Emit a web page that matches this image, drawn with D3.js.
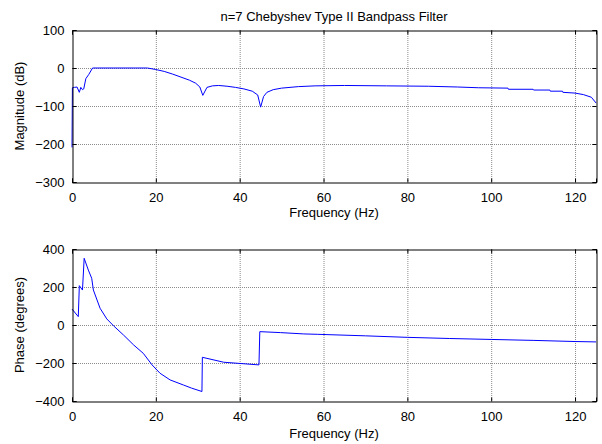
<!DOCTYPE html>
<html>
<head>
<meta charset="utf-8">
<script src="https://cdn.jsdelivr.net/npm/d3@7"></script>
<style>
  html, body { margin: 0; padding: 0; background: #fff; }
  svg text { font-family: "Liberation Sans", Arial, sans-serif; fill: #000; }
</style>
</head>
<body>
<svg id="chart" width="602" height="444"></svg>
<script>
// Frequency response of an order-7 Chebyshev Type II bandpass filter
const chartTitle = "n=7 Chebyshev Type II Bandpass Filter";
const xLabel = "Frequency (Hz)";
const magLabel = "Magnitude (dB)";
const phaseLabel = "Phase (degrees)";

const freqTicks = [0, 20, 40, 60, 80, 100, 120];
const magTicks = [100, 0, -100, -200, -300];
const phaseTicks = [400, 200, 0, -200, -400];

// magnitude response: frequency (Hz) and gain (dB)
const magFreq = [0, 0.1, 0.6, 1.2, 1.75, 2.1, 2.5, 2.8, 3.3, 4.0, 4.9, 10, 15, 18, 20, 22, 24, 26, 28, 29.5, 30.5, 31.2, 32.2, 33.5, 35, 37, 39, 41, 43, 44.3, 45, 45.7, 46.5, 48, 50, 54, 58, 65, 75, 85, 92, 97, 104, 104.1, 110, 110.1, 114, 114.1, 117, 117.1, 120, 122, 123.9, 125];
const magDb = [-209, -52, -51, -50, -64, -51, -57, -55, -28, -17, 0, 0, 0, 0, -4, -9, -16, -24, -32, -40, -50, -72, -51, -47, -46, -48, -51, -55, -61, -71, -103, -75, -64, -57, -53, -49, -47, -46, -47, -48, -50, -52, -53, -56, -56, -58, -58, -61, -61, -64, -66, -70, -77, -92];

// phase response: frequency (Hz) and phase (degrees)
const phaseFreq = [0, 1.5, 1.75, 2.5, 2.9, 3.9, 4.7, 5.1, 6.7, 8.3, 9.9, 12.3, 14.7, 17.0, 19.1, 21.0, 23.4, 26.6, 28.5, 31.0, 31.1, 36.2, 39.8, 44.6, 44.8, 49.7, 55.3, 58.5, 70, 80, 90, 100, 110, 120, 125];
const phaseDeg = [84, 44, 207, 184, 351, 289, 246, 184, 88, 32, -4, -53, -105, -149, -210, -254, -289, -316, -332, -350, -170, -196, -202, -210, -35, -40, -47, -49, -57, -65, -71, -76, -81, -87, -89];

const svg = d3.select("#chart");
const left = 72, right = 596;

const x = d3.scaleLinear().domain([0, 125]).range([left, right]);

function panel(top, bottom, domain, yTicks, xs, ys, yText, labelGap, withTitle) {
  const y = d3.scaleLinear().domain(domain).range([bottom, top]);
  const g = svg.append("g");

  // dotted grid
  g.append("g").selectAll("line.gx").data(freqTicks.filter(d => d > 0)).join("line")
    .attr("x1", d => x(d) + 0.5).attr("x2", d => x(d) + 0.5)
    .attr("y1", top).attr("y2", bottom)
    .attr("stroke", "#8c8c8c").attr("stroke-dasharray", "1,1").attr("stroke-width", 1);
  g.append("g").selectAll("line.gy").data(yTicks.filter(d => d !== domain[0] && d !== domain[1])).join("line")
    .attr("x1", left).attr("x2", right)
    .attr("y1", d => Math.round(y(d)) + 0.5).attr("y2", d => Math.round(y(d)) + 0.5)
    .attr("stroke", "#8c8c8c").attr("stroke-dasharray", "1,1").attr("stroke-width", 1);

  // response curve
  const pts = xs.map((f, i) => [f, ys[i]]);
  g.append("path").datum(pts)
    .attr("fill", "none").attr("stroke", "#0000ff").attr("stroke-width", 1)
    .attr("d", d3.line().x(d => x(d[0])).y(d => y(d[1])));

  // axes with inward ticks
  const ax = g.append("g").attr("transform", `translate(0,${bottom + 0.5})`)
    .call(d3.axisBottom(x).tickValues(freqTicks).tickSize(-4).tickPadding(10));
  const axTop = g.append("g").attr("transform", `translate(0,${top + 0.5})`)
    .call(d3.axisTop(x).tickValues(freqTicks).tickSize(-4).tickFormat(""));
  const ay = g.append("g").attr("transform", `translate(${left + 0.5},0)`)
    .call(d3.axisLeft(y).tickValues(yTicks).tickSize(-4).tickPadding(8));
  const ayR = g.append("g").attr("transform", `translate(${right + 0.5},0)`)
    .call(d3.axisRight(y).tickValues(yTicks).tickSize(-4).tickFormat(""));
  [ax, axTop, ay, ayR].forEach(a => {
    a.select(".domain").attr("stroke", "#000");
    a.selectAll(".tick line").attr("stroke", "#000");
    a.selectAll("text").style("font-size", "13px").style("font-family", "'Liberation Sans', Arial, sans-serif");
  });

  g.append("text").attr("x", (left + right) / 2).attr("y", bottom + labelGap)
    .attr("text-anchor", "middle").style("font-size", "13px").text(xLabel);
  g.append("text").attr("transform", `translate(24,${(top + bottom) / 2}) rotate(-90)`)
    .attr("text-anchor", "middle").style("font-size", "13px").text(yText);
  if (withTitle) {
    g.append("text").attr("x", (left + right) / 2).attr("y", top - 9)
      .attr("text-anchor", "middle").style("font-size", "13px").text(chartTitle);
  }
}

panel(30, 182, [-300, 100], magTicks, magFreq, magDb, magLabel, 35, true);
panel(249, 401, [-400, 400], phaseTicks, phaseFreq, phaseDeg, phaseLabel, 37, false);
</script>
</body>
</html>
